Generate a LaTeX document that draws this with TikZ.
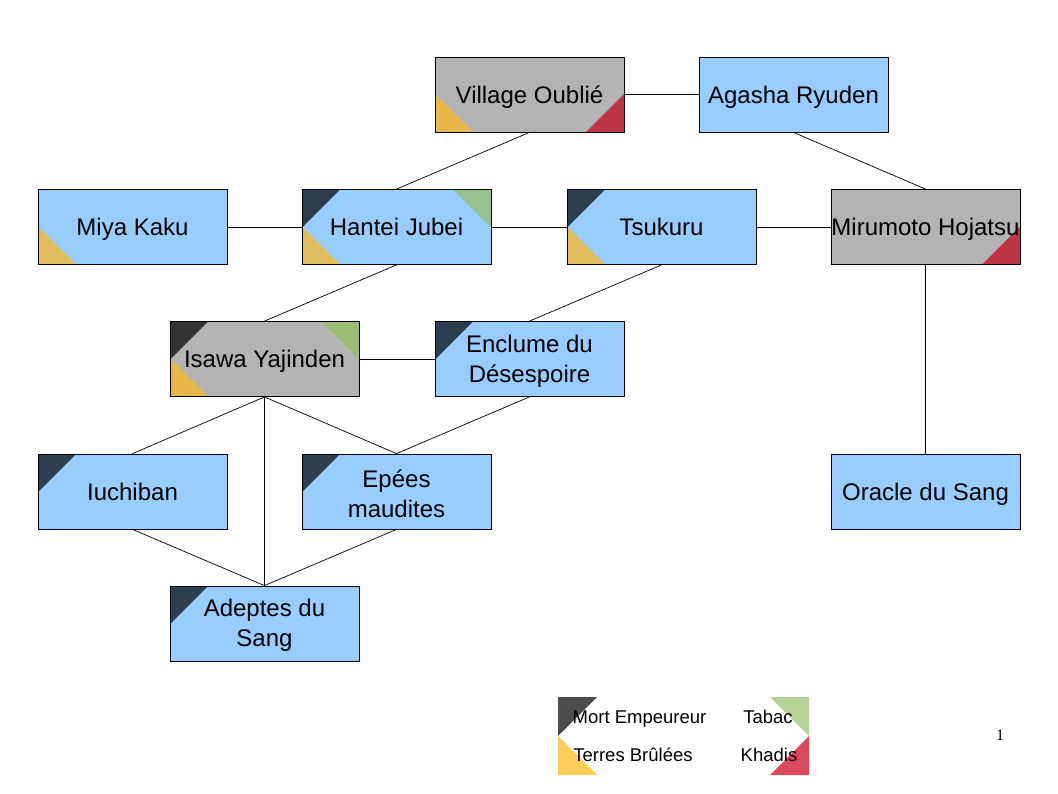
\documentclass[tikz,border=0pt]{standalone}
\usepackage{fontspec}
\setmainfont{Liberation Sans}
\newfontfamily\serifnum{Liberation Serif}
\definecolor{bluefill}{HTML}{99CCFF}
\definecolor{grayfill}{HTML}{B3B3B3}
\definecolor{darkOnBlue}{HTML}{2D3E50}
\definecolor{darkOnGray}{HTML}{333333}
\definecolor{yelOnBlue}{HTML}{E0BE5E}
\definecolor{yelOnGray}{HTML}{E8B84B}
\definecolor{grnOnBlue}{HTML}{96C18D}
\definecolor{grnOnGray}{HTML}{9BBB77}
\definecolor{redOnGray}{HTML}{C13646}
\definecolor{legDark}{HTML}{4D4D4D}
\definecolor{legYel}{HTML}{FFCC5C}
\definecolor{legGrn}{HTML}{B3D494}
\definecolor{legRed}{HTML}{D94A5A}
\newcommand\cTL[1]{\fill[#1] (path picture bounding box.north west) -- ++(38,0) -- ++(-38,38) -- cycle;}
\newcommand\cBL[1]{\fill[#1] (path picture bounding box.south west) -- ++(38,0) -- ++(-38,-38) -- cycle;}
\newcommand\cTR[1]{\fill[#1] (path picture bounding box.north east) -- ++(-38,0) -- ++(38,38) -- cycle;}
\newcommand\cBR[1]{\fill[#1] (path picture bounding box.south east) -- ++(-38,0) -- ++(38,-38) -- cycle;}
\newcommand\topstrut{\rule{0pt}{21.5pt}}
\begin{document}
\begin{tikzpicture}[x=1pt,y=-1pt,
  box/.style={draw=black, line width=0.8pt, minimum width=189pt, minimum height=75pt, inner sep=0pt,
    font=\fontsize{24}{30}\selectfont, align=center, text=black},
  oneline/.style={text height=18pt, text depth=0pt},
  bluebox/.style={box, fill=bluefill},
  graybox/.style={box, fill=grayfill},
  corners/.style={path picture={#1}},
  link/.style={draw=black, line width=0.7pt},
  legtext/.style={font=\fontsize{18.5}{22}\selectfont, inner sep=0pt, text=black, anchor=base}]
\useasboundingbox[fill=white] (0,0) rectangle (1058,794);
% nodes
\node[graybox, oneline, corners={\cBL{yelOnGray}\cBR{redOnGray}}] (vo) at (529.5,94.5) {Village Oublié};
\node[bluebox, oneline] (ar) at (793.5,94.5) {Agasha Ryuden};
\node[bluebox, oneline, corners={\cBL{yelOnBlue}}] (mk) at (132.5,227) {Miya Kaku};
\node[bluebox, oneline, corners={\cTL{darkOnBlue}\cBL{yelOnBlue}\cTR{grnOnBlue}}] (hj) at (396.5,227) {Hantei Jubei};
\node[bluebox, oneline, corners={\cTL{darkOnBlue}\cBL{yelOnBlue}}] (ts) at (661.5,227) {Tsukuru};
\node[graybox, oneline, corners={\cBR{redOnGray}}] (mh) at (925.5,227) {Mirumoto Hojatsu};
\node[graybox, oneline, corners={\cTL{darkOnGray}\cBL{yelOnGray}\cTR{grnOnGray}}] (iy) at (264.5,359) {Isawa Yajinden};
\node[bluebox, corners={\cTL{darkOnBlue}}] (ed) at (529.5,359) {\topstrut Enclume du\\Désespoire};
\node[bluebox, oneline, corners={\cTL{darkOnBlue}}] (iu) at (132.5,491.5) {Iuchiban};
\node[bluebox, corners={\cTL{darkOnBlue}}] (ep) at (396.5,491.5) {\topstrut Epées\\maudites};
\node[bluebox, oneline] (os) at (925.5,491.5) {Oracle du Sang};
\node[bluebox, corners={\cTL{darkOnBlue}}] (ad) at (264.5,623.5) {\topstrut Adeptes du\\Sang};
% links
\draw[link] (vo) -- (ar);
\draw[link] (vo.south) -- (hj.north);
\draw[link] (ar.south) -- (mh.north);
\draw[link] (mk) -- (hj);
\draw[link] (hj) -- (ts);
\draw[link] (ts) -- (mh);
\draw[link] (hj.south) -- (iy.north);
\draw[link] (ts.south) -- (ed.north);
\draw[link] (iy) -- (ed);
\draw[link] (iy.south) -- (iu.north);
\draw[link] (iy.south) -- (ep.north);
\draw[link] (iy.south) -- (ad.north);
\draw[link] (ed.south) -- (ep.north);
\draw[link] (mh.south) -- (os.north);
\draw[link] (iu.south) -- (ad.north);
\draw[link] (ep.south) -- (ad.north);
% legend
\fill[legDark] (558,697) -- (597,697) -- (558,736) -- cycle;
\fill[legYel] (558,736) -- (558,775) -- (597,775) -- cycle;
\fill[legGrn] (770,697) -- (809,697) -- (809,736) -- cycle;
\fill[legRed] (809,736) -- (809,775) -- (770,775) -- cycle;
\node[legtext] (l1) at (639.5,723) {Mort Empeureur};
\node[legtext] (l2) at (633,761.5) {Terres Brûlées};
\node[legtext] (l3) at (768,723) {Tabac};
\node[legtext] (l4) at (769,761.5) {Khadis};
\node[font=\serifnum\fontsize{16}{18}\selectfont, inner sep=0pt] (pg) at (1000,735) {1};
\end{tikzpicture}
\end{document}
